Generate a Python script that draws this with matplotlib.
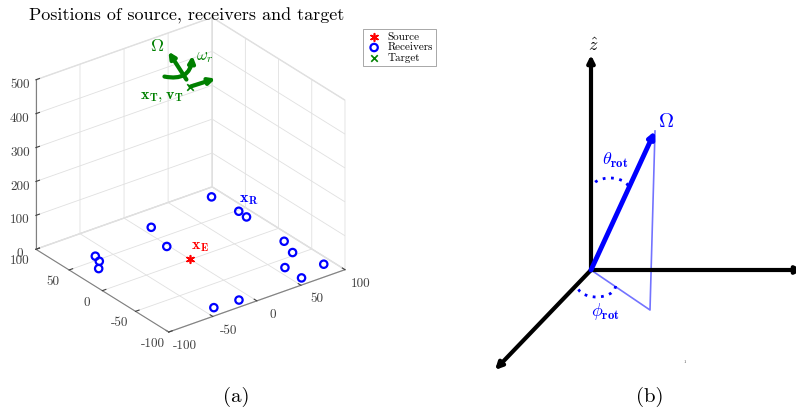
import numpy as np
import matplotlib
matplotlib.use("Agg")
import matplotlib.pyplot as plt
from matplotlib.patches import Arc
from mpl_toolkits.mplot3d import proj3d

plt.rcParams['font.family'] = 'serif'
plt.rcParams['font.serif'] = ['cmr10']
plt.rcParams['mathtext.fontset'] = 'cm'
plt.rcParams['axes.unicode_minus'] = False
plt.rcParams['axes.formatter.use_mathtext'] = True
plt.rcParams['grid.color'] = '#e0e0e0'
plt.rcParams['grid.linewidth'] = 0.6

# Posiciones (a)
rx = [88, 91, 90, 9, -2, -65, -68, -77, 89, 82, 59, 59, 91, -39, -12]
ry = [85, 48, 35, 71, 33, 57, 47, 36, -23, -45, -64, -89, -80, -87, -89]
rz = [0] * len(rx)
src = [0, 0, 0]
tgt = [0, 0, 510]

xy_ticks = [-100, -50, 0, 50, 100]
z_ticks = [0, 100, 200, 300, 400, 500]

GREEN = '#008000'
TICK_TXT = '#404040'
TICK_FS = 9.5

fig = plt.figure(figsize=(7.96, 4.18), dpi=100)

ax = fig.add_axes([-0.006, 0.202, 0.48, 0.74], projection='3d', proj_type='ortho')
ax.view_init(elev=28, azim=-127)
ax.set_box_aspect((1, 1, 0.87), zoom=1.15)
ax.set_xlim(-100, 100)
ax.set_ylim(-100, 100)
ax.set_zlim(0, 500)
ax.set_xticks(xy_ticks)
ax.set_yticks(xy_ticks)
ax.set_zticks(z_ticks)
ax.set_xticklabels([''] * len(xy_ticks))
ax.set_yticklabels([''] * len(xy_ticks))
ax.set_zticklabels([str(t) for t in z_ticks])
for a in (ax.xaxis, ax.yaxis, ax.zaxis):
    a.set_pane_color((1, 1, 1, 1))
    a.pane.set_edgecolor('#e0e0e0')
    a.line.set_color('#808080')
    a.line.set_linewidth(0.8)
    a._axinfo['tick']['inward_factor'] = 0.0
    a._axinfo['tick']['outward_factor'] = 0.25
    a._axinfo['tick']['color'] = '#808080'
ax.tick_params(labelsize=TICK_FS, colors=TICK_TXT)
ax.tick_params(axis='z', pad=-2)

ax.scatter(src[0], src[1], src[2], marker=(6, 2, 0), s=30, color='red',
           linewidths=1.2, label='Source', depthshade=False)
ax.scatter(rx, ry, rz, marker='o', s=28, facecolors='none', edgecolors='blue',
           linewidths=1.6, label='Receivers', depthshade=False)
ax.scatter(tgt[0], tgt[1], tgt[2], marker='x', s=22, color=GREEN,
           linewidths=1.2, label='Target', depthshade=False)
ax.set_title('Positions of source, receivers and target', fontsize=13, pad=-6)

leg = ax.legend(loc='upper left', bbox_to_anchor=(363 / 796, 1 - 29 / 418),
                bbox_transform=fig.transFigure, fontsize=8, frameon=True,
                fancybox=False, edgecolor='#808080', borderpad=0.3,
                borderaxespad=0, handletextpad=0.5, labelspacing=0.05,
                handlelength=1.4)
leg.get_frame().set_linewidth(0.6)

fig.canvas.draw()


def scr(p):
    # posicion en pixeles de figura de un punto 3D
    x2, y2, _ = proj3d.proj_transform(p[0], p[1], p[2], ax.M)
    return ax.transData.transform((x2, y2))


# etiquetas de los ejes x e y (estilo MATLAB)
for t in xy_ticks:
    px, py = scr([t, -100, 0])
    ax.annotate(str(t), xy=(px + 16, py - 14), xycoords='figure pixels',
                fontsize=TICK_FS, color=TICK_TXT, ha='center', va='center')
    px, py = scr([-100, t, 0])
    ax.annotate(str(t), xy=(px - 16, py - 12), xycoords='figure pixels',
                fontsize=TICK_FS, color=TICK_TXT, ha='center', va='center')

tx, ty = scr(tgt)
arr = dict(arrowstyle='-|>', color=GREEN, lw=3.0, mutation_scale=9,
           shrinkA=0, shrinkB=0)
# Omega y velocidad
ax.annotate('', xy=(tx - 22, ty + 35), xycoords='figure pixels',
            xytext=(tx - 4, ty + 7), textcoords='figure pixels', arrowprops=arr)
ax.annotate('', xy=(tx + 25, ty + 8), xycoords='figure pixels',
            xytext=(tx, ty), textcoords='figure pixels', arrowprops=arr)
# flecha curva omega_r
ax.annotate('', xy=(tx + 2, ty + 31), xycoords='figure pixels',
            xytext=(tx - 26, ty + 10), textcoords='figure pixels',
            arrowprops=dict(arr, connectionstyle='arc3,rad=0.55'))
ax.annotate('$\\Omega$', xy=(tx - 33, ty + 41), xycoords='figure pixels',
            color=GREEN, fontsize=13, ha='center', va='center')
ax.annotate('$\\omega_r$', xy=(tx + 6, ty + 29), xycoords='figure pixels',
            color=GREEN, fontsize=12, ha='left', va='center')
ax.annotate('$\\mathbf{x_T}, \\mathbf{v_T}$', xy=(tx - 29, ty - 11),
            xycoords='figure pixels', color=GREEN, fontsize=11.5,
            ha='center', va='center')

rpx, rpy = scr([rx[1], ry[1], rz[1]])
ax.annotate('$\\mathbf{x_R}$', xy=(rpx, rpy + 4), xycoords='figure pixels',
            color='blue', fontsize=11.5, ha='left', va='bottom')
sx, sy = scr(src)
ax.annotate('$\\mathbf{x_E}$', xy=(sx + 1, sy + 5), xycoords='figure pixels',
            color='red', fontsize=11.5, ha='left', va='bottom')

# Diagrama (b)
origin = (591, 270)
z_tip = (591, 55)
x_tip = (803, 270)
y_tip = (495, 370)
omega_tip = (655, 131)
omega_proj = (650, 310)

bx = fig.add_axes([470 / 796, 0, 326 / 796, 1])
bx.set_xlim(470, 796)
bx.set_ylim(418, 0)
bx.axis('off')
ax_arr = dict(arrowstyle='-|>', color='black', lw=3, mutation_scale=10,
              shrinkA=0, shrinkB=0)
for tip in (z_tip, x_tip, y_tip):
    bx.annotate('', xy=tip, xytext=origin, arrowprops=ax_arr, annotation_clip=False)
bx.plot([omega_tip[0], omega_proj[0], origin[0]],
        [omega_tip[1], omega_proj[1], origin[1]], color='blue', alpha=0.55, lw=1.2)
bx.annotate('', xy=omega_tip, xytext=origin,
            arrowprops=dict(arrowstyle='-|>', color='blue', lw=3.5,
                            mutation_scale=9, shrinkA=0, shrinkB=0))
bx.add_patch(Arc((610, 189), 38, 22, theta1=180, theta2=360, color='blue',
                 lw=2, ls=(0, (1, 2))))
bx.add_patch(Arc((596.5, 286), 38, 22, theta1=0, theta2=180, color='blue',
                 lw=2, ls=(0, (1, 2))))
bx.text(593, 45, '$\\hat{z}$', fontsize=13, ha='center', va='center')
bx.text(666, 122, '$\\Omega$', fontsize=15, color='blue', ha='center', va='center')
bx.text(615, 160, '$\\theta_{\\mathbf{rot}}$', fontsize=13, color='blue',
        ha='center', va='center')
bx.text(605, 312, '$\\phi_{\\mathbf{rot}}$', fontsize=13, color='blue',
        ha='center', va='center')
bx.text(685, 362, '1', fontsize=3.5, color='#555555', ha='center', va='center')

fig.text(236 / 796, 1 - 397 / 418, '(a)', fontsize=15, ha='center', va='center')
fig.text(650 / 796, 1 - 397 / 418, '(b)', fontsize=15, ha='center', va='center')

fig.savefig('out.png', dpi=100)
